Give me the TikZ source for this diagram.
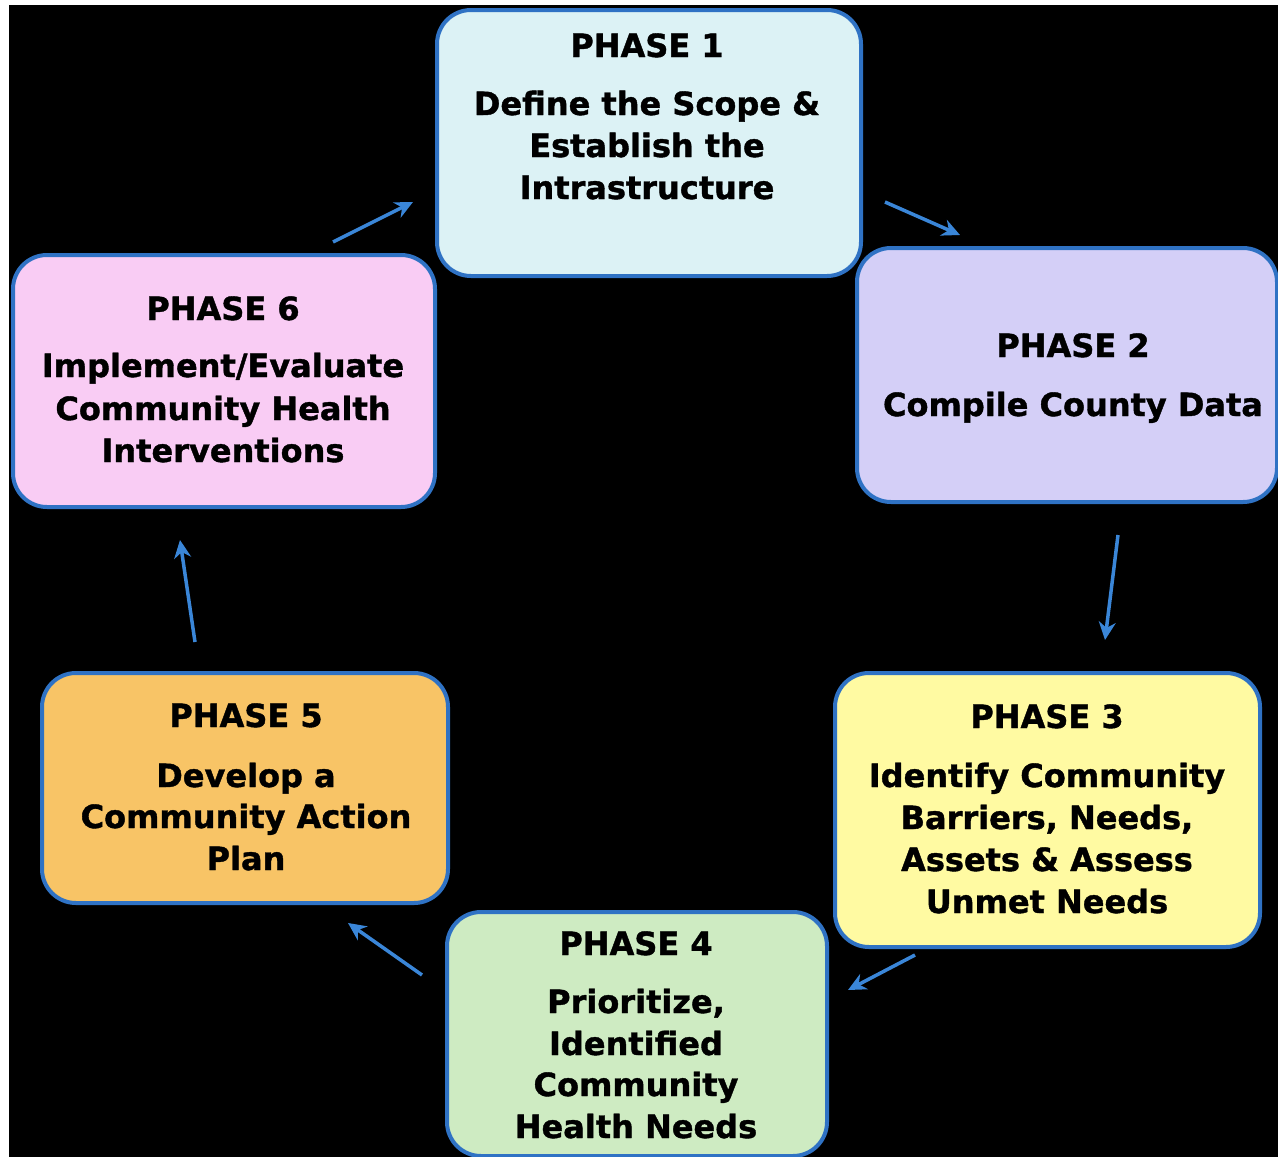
\documentclass[tikz,border=0pt]{standalone}
\usepackage{fontspec}
\setmainfont{DejaVu Sans}[BoldFeatures={FakeBold=1.2}]
\usetikzlibrary{arrows.meta}
\definecolor{bordblue}{HTML}{2F72C4}
\definecolor{arrowblue}{HTML}{3A86D8}
\definecolor{fillone}{HTML}{DCF2F5}
\definecolor{filltwo}{HTML}{D4CFF7}
\definecolor{fillthree}{HTML}{FFFAA2}
\definecolor{fillfour}{HTML}{CEEBC2}
\definecolor{fillfive}{HTML}{F8C466}
\definecolor{fillsix}{HTML}{F9CCF4}
\begin{document}
\begin{tikzpicture}[x=1pt,y=-1pt,
  phasebox/.style={draw=bordblue, line width=4pt, rounded corners=34pt, inner sep=0pt},
  ln/.style={anchor=base, inner sep=0pt, font=\fontsize{32}{38}\selectfont\bfseries, text=black},
  flow/.style={draw=arrowblue, line width=3.5pt, -{Stealth[length=18pt,width=17pt]}}]
\useasboundingbox (0,0) rectangle (1278,1157);
\fill[white] (0,0) rectangle (1278,1157);
\fill[black] (9,5) rectangle (1278,1157);

% boxes
\node[phasebox, fill=fillone, minimum width=424pt, minimum height=266pt] (p1) at (649,143) {};
\node[phasebox, fill=filltwo, minimum width=420pt, minimum height=254pt] (p2) at (1067,375) {};
\node[phasebox, fill=fillthree, minimum width=425pt, minimum height=274pt] (p3) at (1047.5,810) {};
\node[phasebox, fill=fillfour, minimum width=380pt, minimum height=244pt] (p4) at (637,1034) {};
\node[phasebox, fill=fillfive, minimum width=406pt, minimum height=230pt] (p5) at (245,788) {};
\node[phasebox, fill=fillsix, minimum width=422pt, minimum height=252pt] (p6) at (224,381) {};

% texts phase 1
\node[ln] (t1a) at (647,57) {PHASE 1};
\node[ln] (t1b) at (647,115) {Define the Scope \&};
\node[ln] (t1c) at (647,157) {Establish the};
\node[ln] (t1d) at (647,199) {Intrastructure};
% phase 2
\node[ln] (t2a) at (1073,357) {PHASE 2};
\node[ln] (t2b) at (1073,416) {Compile County Data};
% phase 3
\node[ln] (t3a) at (1047,728) {PHASE 3};
\node[ln] (t3b) at (1047,787) {Identify Community};
\node[ln] (t3c) at (1047,829) {Barriers, Needs,};
\node[ln] (t3d) at (1047,871) {Assets \& Assess};
\node[ln] (t3e) at (1047,913) {Unmet Needs};
% phase 4
\node[ln] (t4a) at (636,955) {PHASE 4};
\node[ln] (t4b) at (636,1013) {Prioritize,};
\node[ln] (t4c) at (636,1055) {Identified};
\node[ln] (t4d) at (636,1096) {Community};
\node[ln] (t4e) at (636,1138) {Health Needs};
% phase 5
\node[ln] (t5a) at (246,727) {PHASE 5};
\node[ln] (t5b) at (246,787) {Develop a};
\node[ln] (t5c) at (246,828) {Community Action};
\node[ln] (t5d) at (246,870) {Plan};
% phase 6
\node[ln] (t6a) at (223,320) {PHASE 6};
\node[ln] (t6b) at (223,377) {Implement/Evaluate};
\node[ln] (t6c) at (223,420) {Community Health};
\node[ln] (t6d) at (223,462) {Interventions};

% arrow end points
\coordinate (a1s) at (333,242); \coordinate (a1e) at (413,202);
\coordinate (a2s) at (885,202); \coordinate (a2e) at (960,235);
\coordinate (a3s) at (1118,535); \coordinate (a3e) at (1105,640);
\coordinate (a4s) at (915,955); \coordinate (a4e) at (848,990);
\coordinate (a5s) at (422,975); \coordinate (a5e) at (348,923);
\coordinate (a6s) at (195,642); \coordinate (a6e) at (180,540);
\draw[flow] (a1s) -- (a1e);
\draw[flow] (a2s) -- (a2e);
\draw[flow] (a3s) -- (a3e);
\draw[flow] (a4s) -- (a4e);
\draw[flow] (a5s) -- (a5e);
\draw[flow] (a6s) -- (a6e);
\end{tikzpicture}
\end{document}
